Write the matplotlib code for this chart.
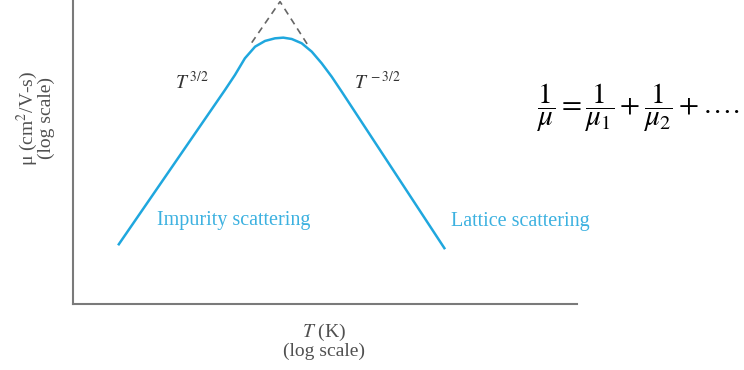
import matplotlib
matplotlib.use("Agg")
import matplotlib.pyplot as plt

# Mobility curve (log-log axes, arbitrary units)
temp_k = [15.1, 40.1, 43.9, 48.1, 52.8, 57.8, 63.3, 68.3, 73.8,
          80.8, 88.6, 97.0, 106.3, 116.5, 299.5]
mobility = [171, 707, 810, 944, 1050, 1106, 1133, 1140, 1126,
            1083, 1003, 902, 798, 696, 165]

# Dashed asymptotes meeting above the peak
asym_temp = [51.2, 66.3, 85.1]
asym_mob = [1089, 1584, 1073]

x_limits = (10, 1000)
y_limits = (100, 1608)

plt.rcParams["font.family"] = ["Liberation Serif", "DejaVu Serif"]
plt.rcParams["mathtext.fontset"] = "stix"

LINE_BLUE = "#1fa7de"
TEXT_BLUE = "#3cb1e0"
AXIS_GRAY = "#7a7a7a"
LABEL_GRAY = "#505050"

fig = plt.figure(figsize=(7.44, 3.70), dpi=100)
ax = fig.add_axes([73 / 744, 66 / 370, 504 / 744, 304 / 370])

ax.plot(temp_k, mobility, color=LINE_BLUE, linewidth=1.8,
        solid_capstyle="butt", solid_joinstyle="round")
ax.plot(asym_temp, asym_mob, color="#666666", linewidth=1.2,
        linestyle=(0, (4, 3)), clip_on=False)

ax.set_xscale("log")
ax.set_yscale("log")
ax.set_xlim(*x_limits)
ax.set_ylim(*y_limits)
ax.set_xticks([])
ax.set_yticks([])
ax.minorticks_off()
for side in ("top", "right"):
    ax.spines[side].set_visible(False)
for side in ("left", "bottom"):
    ax.spines[side].set_color(AXIS_GRAY)
    ax.spines[side].set_linewidth(1.5)

# power-law labels
ax.text(0.235, 0.73, r"$T^{\,3/2}$", transform=ax.transAxes, fontsize=14,
        color="#333333", ha="center", va="center")
ax.text(0.605, 0.73, r"$T^{\,-3/2}$", transform=ax.transAxes, fontsize=14,
        color="#333333", ha="center", va="center")

# regime labels
ax.text(0.319, 0.276, "Impurity scattering", transform=ax.transAxes,
        fontsize=14.5, color=TEXT_BLUE, ha="center", va="center")
ax.text(0.887, 0.273, "Lattice scattering", transform=ax.transAxes,
        fontsize=14.5, color=TEXT_BLUE, ha="center", va="center")

# axis captions (two lines each, set tight like the original)
fig.text(35 / 744, 1 - 118 / 370, "μ (cm$^2$/V-s)\n(log scale)", rotation=90,
         fontsize=14, color=LABEL_GRAY, ha="center", va="center",
         multialignment="center", linespacing=0.85)
fig.text(324 / 744, 1 - 341 / 370, "$T$ (K)\n(log scale)", fontsize=14,
         color=LABEL_GRAY, ha="center", va="center",
         multialignment="center", linespacing=0.92)

# Matthiessen's rule
fig.text(537 / 744, 1 - 108 / 370,
         r"$\dfrac{1}{\mu}=\dfrac{1}{\mu_1}+\dfrac{1}{\mu_2}+\ldots.$",
         fontsize=21, color="black", ha="left", va="center")

fig.savefig("out.png", dpi=100)
